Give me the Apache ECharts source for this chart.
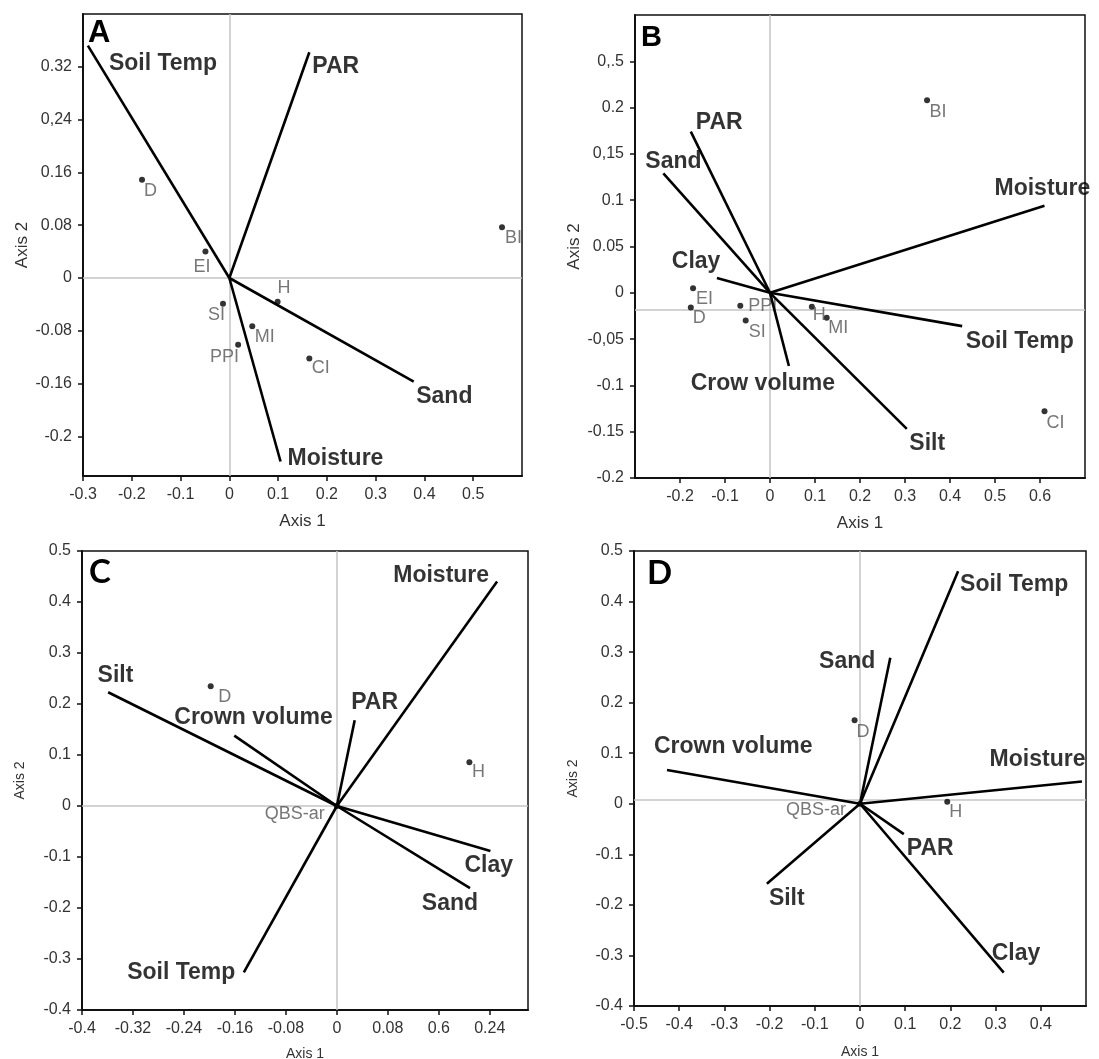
<!DOCTYPE html>
<html>
<head>
<meta charset="utf-8">
<title>Ordination biplots A-D</title>
<script src="https://cdn.jsdelivr.net/npm/echarts@6/dist/echarts.min.js"></script>
<style>
  html, body { margin: 0; padding: 0; background: #fff; }
  #main { width: 1099px; height: 1059px; }
</style>
</head>
<body>
<div id="main"></div>
<script>
// ---- data ----

// panel A
var aVecNames = ['Soil Temp', 'PAR', 'Sand', 'Moisture'];
var aVecX = [-0.290, 0.164, 0.378, 0.105];
var aVecY = [0.352, 0.342, -0.157, -0.278];
var aSiteNames = ['D', 'EI', 'H', 'SI', 'MI', 'PPI', 'CI', 'BI'];
var aSiteX = [-0.179, -0.049, 0.099, -0.013, 0.047, 0.018, 0.164, 0.559];
var aSiteY = [0.149, 0.040, -0.036, -0.039, -0.073, -0.101, -0.122, 0.077];
var aXTicks = [-0.3, -0.2, -0.1, 0, 0.1, 0.2, 0.3, 0.4, 0.5];
var aXTickLabels = ['-0.3', '-0.2', '-0.1', '0', '0.1', '0.2', '0.3', '0.4', '0.5'];
var aYTicks = [0.32, 0.24, 0.16, 0.08, 0, -0.08, -0.16, -0.24];
var aYTickLabels = ['0.32', '0,24', '0.16', '0.08', '0', '-0.08', '-0.16', '-0.2'];

// panel B
var bVecNames = ['PAR', 'Sand', 'Clay', 'Moisture', 'Soil Temp', 'Silt', 'Crow volume'];
var bVecX = [-0.176, -0.237, -0.118, 0.610, 0.427, 0.304, 0.042];
var bVecY = [0.174, 0.129, 0.016, 0.094, -0.036, -0.147, -0.079];
var bSiteNames = ['BI', 'EI', 'D', 'PPI', 'SI', 'H', 'MI', 'CI'];
var bSiteX = [0.349, -0.171, -0.176, -0.066, -0.054, 0.093, 0.126, 0.610];
var bSiteY = [0.208, 0.005, -0.016, -0.014, -0.030, -0.015, -0.027, -0.128];
var bXTicks = [-0.2, -0.1, 0, 0.1, 0.2, 0.3, 0.4, 0.5, 0.6];
var bXTickLabels = ['-0.2', '-0.1', '0', '0.1', '0.2', '0.3', '0.4', '0.5', '0.6'];
var bYTicks = [0.25, 0.2, 0.15, 0.1, 0.05, 0, -0.05, -0.1, -0.15, -0.2];
var bYTickLabels = ['0,.5', '0.2', '0,15', '0.1', '0.05', '0', '-0,05', '-0.1', '-0.15', '-0.2'];

// panel C
var cVecNames = ['Moisture', 'Silt', 'Crown volume', 'PAR', 'Clay', 'Sand', 'Soil Temp'];
var cVecX = [0.2515, -0.359, -0.161, 0.028, 0.241, 0.209, -0.146];
var cVecY = [0.440, 0.223, 0.138, 0.168, -0.088, -0.161, -0.326];
var cSiteNames = ['D', 'H', 'QBS-ar'];
var cSiteX = [-0.198, 0.208, 0];
var cSiteY = [0.235, 0.086, 0];
var cXTicks = [-0.4, -0.32, -0.24, -0.16, -0.08, 0, 0.08, 0.16, 0.24];
var cXTickLabels = ['-0.4', '-0.32', '-0.24', '-0.16', '-0.08', '0', '0.08', '0.6', '0.24'];
var cYTicks = [0.5, 0.4, 0.3, 0.2, 0.1, 0, -0.1, -0.2, -0.3, -0.4];
var cYTickLabels = ['0.5', '0.4', '0.3', '0.2', '0.1', '0', '-0.1', '-0.2', '-0.3', '-0.4'];

// panel D
var dVecNames = ['Soil Temp', 'Sand', 'Crown volume', 'Moisture', 'PAR', 'Silt', 'Clay'];
var dVecX = [0.217, 0.067, -0.427, 0.491, 0.097, -0.206, 0.318];
var dVecY = [0.460, 0.289, 0.067, 0.044, -0.060, -0.158, -0.334];
var dSiteNames = ['D', 'H', 'QBS-ar'];
var dSiteX = [-0.012, 0.193, 0];
var dSiteY = [0.165, 0.004, 0];
var dXTicks = [-0.5, -0.4, -0.3, -0.2, -0.1, 0, 0.1, 0.2, 0.3, 0.4];
var dXTickLabels = ['-0.5', '-0.4', '-0.3', '-0.2', '-0.1', '0', '0.1', '0.2', '0.3', '0.4'];
var dYTicks = [0.5, 0.4, 0.3, 0.2, 0.1, 0, -0.1, -0.2, -0.3, -0.4];
var dYTickLabels = ['0.5', '0.4', '0.3', '0.2', '0.1', '0', '-0.1', '-0.2', '-0.3', '-0.4'];

// axis extents and the grey cross-hair lines
var xRanges = [[-0.3, 0.6], [-0.3, 0.7], [-0.4, 0.3], [-0.5, 0.5]];
var yRanges = [[-0.3, 0.4], [-0.2, 0.3], [-0.4, 0.5], [-0.4, 0.5]];
var refX = [0, 0, 0, 0];
var refY = [0, -0.018, 0, 0.007];

// ---- layout / styling ----
var grids = [
  { left: 83, top: 14, width: 439, height: 462 },
  { left: 635, top: 15, width: 450, height: 463 },
  { left: 82, top: 551, width: 446, height: 459 },
  { left: 634, top: 551, width: 452, height: 455 }
];
// [align, dx, dy] for each vector label, relative to the arrow tip
var vecLabelPlace = [
  [['left', 21, 18], ['left', 3, 14.5], ['left', 2.5, 15.5], ['left', 7, -3]],
  [['left', 5, -9.5], ['left', -18, -12], ['right', 3.5, -16], ['left', -50, -17],
   ['left', 3.5, 16], ['left', 2.5, 15], ['center', -26, 17.5]],
  [['right', -8, -6], ['left', -10.5, -17], ['left', -60, -18], ['left', -3.5, -18],
   ['left', -26, 15], ['right', 8, 16], ['right', -8.5, 0.5]],
  [['left', 2, 13.5], ['right', -15, 3.5], ['left', -13, -23], ['right', 3.5, -21.5],
   ['left', 3, 15], ['left', 2, 15], ['left', -12, -19]]
];
// [align, dx, dy] for each site label, relative to the dot
var siteLabelPlace = [
  [['left', 2, 11], ['center', -3.5, 15.5], ['left', 0, -13.5], ['right', 2, 11],
   ['left', 2.5, 10.5], ['right', 1, 12], ['left', 2.5, 9.5], ['left', 3, 11]],
  [['left', 2.5, 11.5], ['left', 3, 11], ['left', 2, 10.5], ['left', 8, 0],
   ['left', 3, 11], ['left', 1, 8.5], ['left', 1.5, 10], ['left', 2, 11.5]],
  [['left', 7.5, 10.5], ['left', 2.5, 10], ['right', -12, 8]],
  [['left', 2, 11.5], ['left', 2, 10.5], ['right', -14, 6]]
];
var letters = [
  { text: 'A', left: 88, top: 18, font: 'Liberation Sans', size: 31 },
  { text: 'B', left: 641, top: 23, font: 'Liberation Sans', size: 29 },
  { text: 'C', left: 89, top: 556, font: 'Lato', size: 33 },
  { text: 'D', left: 647, top: 557, font: 'Lato', size: 33 }
];
var axisNameSize = [17, 17, 14, 14];
var xNameGap = [37, 37, 37, 39];
var yNameGap = [52, 52, 55, 54];

var panels = [
  { vn: aVecNames, vx: aVecX, vy: aVecY, sn: aSiteNames, sx: aSiteX, sy: aSiteY,
    xt: aXTicks, xl: aXTickLabels, yt: aYTicks, yl: aYTickLabels },
  { vn: bVecNames, vx: bVecX, vy: bVecY, sn: bSiteNames, sx: bSiteX, sy: bSiteY,
    xt: bXTicks, xl: bXTickLabels, yt: bYTicks, yl: bYTickLabels },
  { vn: cVecNames, vx: cVecX, vy: cVecY, sn: cSiteNames, sx: cSiteX, sy: cSiteY,
    xt: cXTicks, xl: cXTickLabels, yt: cYTicks, yl: cYTickLabels },
  { vn: dVecNames, vx: dVecX, vy: dVecY, sn: dSiteNames, sx: dSiteX, sy: dSiteY,
    xt: dXTicks, xl: dXTickLabels, yt: dYTicks, yl: dYTickLabels }
];

function tickFormatter(ticks, labels) {
  return function (v) {
    for (var i = 0; i < ticks.length; i++) {
      if (Math.abs(ticks[i] - v) < 1e-9) return labels[i];
    }
    return '';
  };
}

var option = {
  animation: false,
  backgroundColor: '#fff',
  textStyle: { fontFamily: 'Liberation Sans, Arial, sans-serif' },
  grid: [],
  xAxis: [],
  yAxis: [],
  series: [],
  graphic: []
};

panels.forEach(function (p, k) {
  var g = grids[k];
  option.grid.push({
    left: g.left, top: g.top, width: g.width, height: g.height,
    show: true, borderColor: '#111', borderWidth: 1.5,
    containLabel: false, outerBoundsMode: 'none'
  });

  var axisCommon = {
    type: 'value',
    gridIndex: k,
    splitLine: { show: false },
    axisLine: { show: true, onZero: false, lineStyle: { color: '#111', width: 2 } },
    axisTick: { show: true, inside: false, length: 5, lineStyle: { color: '#111', width: 1.5 } },
    nameLocation: 'middle',
    nameTextStyle: { fontSize: axisNameSize[k], color: '#333', fontFamily: 'Liberation Sans' }
  };

  option.xAxis.push(Object.assign({}, axisCommon, {
    min: xRanges[k][0], max: xRanges[k][1],
    name: 'Axis 1', nameGap: xNameGap[k],
    axisTick: Object.assign({}, axisCommon.axisTick, { customValues: p.xt }),
    axisLabel: {
      customValues: p.xt, formatter: tickFormatter(p.xt, p.xl),
      fontSize: 16, color: '#333', margin: 11, hideOverlap: false,
      fontFamily: 'Liberation Sans'
    }
  }));
  option.yAxis.push(Object.assign({}, axisCommon, {
    min: yRanges[k][0], max: yRanges[k][1],
    name: 'Axis 2', nameGap: yNameGap[k], nameRotate: 90,
    axisTick: Object.assign({}, axisCommon.axisTick, { customValues: p.yt }),
    axisLabel: {
      customValues: p.yt, formatter: tickFormatter(p.yt, p.yl),
      fontSize: 16, color: '#333', margin: 11, hideOverlap: false,
      fontFamily: 'Liberation Sans'
    }
  }));

  // grey cross-hair through the origin
  option.series.push({
    type: 'lines', coordinateSystem: 'cartesian2d',
    xAxisIndex: k, yAxisIndex: k, silent: true, z: 1,
    lineStyle: { color: '#c4c4c4', width: 1.5, opacity: 1, curveness: 0 },
    data: [
      { coords: [[refX[k], yRanges[k][0]], [refX[k], yRanges[k][1]]] },
      { coords: [[xRanges[k][0], refY[k]], [xRanges[k][1], refY[k]]] }
    ]
  });

  // site dots + grey labels
  option.series.push({
    type: 'scatter', xAxisIndex: k, yAxisIndex: k, silent: true, z: 3,
    symbol: 'circle', symbolSize: 6,
    itemStyle: { color: '#000' },
    data: p.sn.map(function (n, i) {
      var pl = siteLabelPlace[k][i];
      return {
        name: n, value: [p.sx[i], p.sy[i]],
        label: {
          show: true, formatter: n, position: [3, 3],
          align: pl[0], verticalAlign: 'middle', offset: [pl[1], pl[2]],
          fontSize: 18, color: '#555', fontFamily: 'Liberation Sans'
        }
      };
    })
  });

  // environmental vectors from the origin
  option.series.push({
    type: 'lines', coordinateSystem: 'cartesian2d',
    xAxisIndex: k, yAxisIndex: k, silent: true, z: 4,
    lineStyle: { color: '#000', width: 2.6, opacity: 1, curveness: 0 },
    data: p.vn.map(function (n, i) {
      return { name: n, coords: [[0, 0], [p.vx[i], p.vy[i]]] };
    })
  });

  // bold vector labels at the tips
  option.series.push({
    type: 'scatter', xAxisIndex: k, yAxisIndex: k, silent: true, z: 5,
    symbolSize: 1, itemStyle: { color: 'rgba(0,0,0,0)' },
    data: p.vn.map(function (n, i) {
      var pl = vecLabelPlace[k][i];
      return {
        name: n, value: [p.vx[i], p.vy[i]],
        label: {
          show: true, formatter: n, position: [0.5, 0.5],
          align: pl[0], verticalAlign: 'middle', offset: [pl[1], pl[2]],
          fontSize: 23, fontWeight: 'bold', color: '#000', fontFamily: 'Liberation Sans'
        }
      };
    })
  });

  var L = letters[k];
  option.graphic.push({
    type: 'text', left: L.left, top: L.top, z: 10,
    style: { text: L.text, fontSize: L.size, fontWeight: 'bold', fontFamily: L.font, fill: '#000' }
  });
});

var myChart = echarts.init(document.getElementById('main'), null, { renderer: 'canvas' });
myChart.setOption(option);
</script>
</body>
</html>
